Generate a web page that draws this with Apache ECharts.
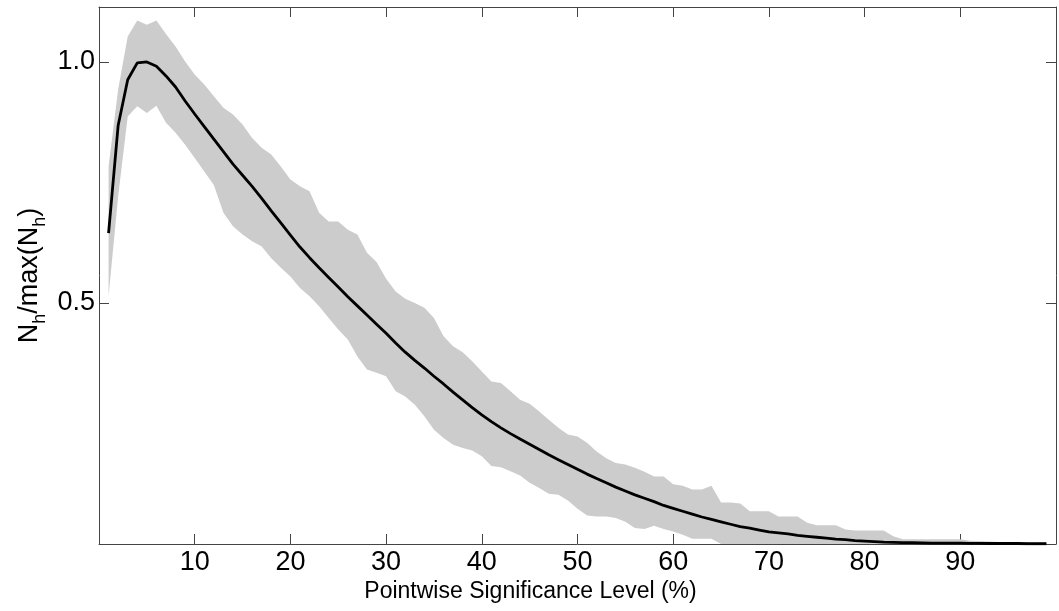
<!DOCTYPE html>
<html>
<head>
<meta charset="utf-8">
<script src="https://cdn.jsdelivr.net/npm/echarts@6/dist/echarts.min.js"></script>
<style>
  html, body { margin: 0; padding: 0; background: #fff; }
  #chart { width: 1059px; height: 611px; }
</style>
</head>
<body>
<div id="chart"></div>
<script>
// significance level (%)
const levels = [1,2,3,4,5,6,7,8,9,10,11,12,13,14,15,16,17,18,19,20,
  21,22,23,24,25,26,27,28,29,30,31,32,33,34,35,36,37,38,39,40,
  41,42,43,44,45,46,47,48,49,50,51,52,53,54,55,56,57,58,59,60,
  61,62,63,64,65,66,67,68,69,70,71,72,73,74,75,76,77,78,79,80,
  81,82,83,84,85,86,87,88,89,90,91,92,93,94,95,96,97,98,99];

// mean Nh/max(Nh)
const meanNh = [0.645,0.868,0.963,0.998,1.0,0.991,0.971,0.948,0.919,0.892,
  0.866,0.840,0.814,0.788,0.765,0.742,0.717,0.691,0.666,0.641,
  0.616,0.594,0.573,0.553,0.533,0.513,0.494,0.475,0.456,0.437,
  0.417,0.398,0.381,0.365,0.348,0.332,0.315,0.299,0.283,0.268,
  0.254,0.241,0.229,0.218,0.207,0.196,0.185,0.175,0.165,0.155,
  0.145,0.136,0.127,0.118,0.110,0.102,0.095,0.088,0.080,0.074,
  0.068,0.062,0.056,0.051,0.046,0.041,0.036,0.033,0.029,0.025,
  0.023,0.021,0.018,0.016,0.014,0.012,0.010,0.009,0.007,0.006,
  0.005,0.004,0.0035,0.003,0.003,0.0025,0.002,0.002,0.002,0.002,
  0.0015,0.0015,0.001,0.001,0.001,0.001,0.0005,0.0005,0.0005];

// upper edge of the spread
const upperNh = [0.783,0.943,1.053,1.086,1.077,1.086,1.058,1.032,1.001,0.974,
  0.953,0.929,0.905,0.891,0.870,0.842,0.822,0.808,0.783,0.756,
  0.742,0.732,0.687,0.669,0.669,0.652,0.642,0.604,0.585,0.550,
  0.524,0.509,0.500,0.490,0.469,0.431,0.410,0.398,0.379,0.358,
  0.337,0.334,0.317,0.299,0.291,0.275,0.258,0.241,0.227,0.223,
  0.210,0.192,0.178,0.168,0.165,0.158,0.150,0.140,0.140,0.124,
  0.121,0.113,0.113,0.121,0.086,0.086,0.084,0.068,0.068,0.068,
  0.057,0.057,0.057,0.044,0.039,0.039,0.039,0.030,0.028,0.028,
  0.028,0.028,0.016,0.010,0.010,0.010,0.010,0.010,0.010,0.010,
  0.007,0.006,0.005,0.004,0.004,0.004,0.003,0.003,0.003];

// lower edge of the spread
const lowerNh = [0.514,0.721,0.887,0.908,0.894,0.909,0.874,0.853,0.828,0.801,
  0.773,0.745,0.687,0.659,0.642,0.628,0.617,0.593,0.573,0.555,
  0.531,0.514,0.493,0.469,0.445,0.424,0.389,0.362,0.355,0.348,
  0.317,0.306,0.289,0.265,0.237,0.220,0.206,0.199,0.194,0.182,
  0.162,0.159,0.151,0.142,0.127,0.116,0.104,0.102,0.090,0.073,
  0.059,0.057,0.057,0.054,0.046,0.033,0.031,0.038,0.031,0.026,
  0.019,0.011,0.011,0.011,0,0,0,0,0,0,
  0,0,0,0,0,0,0,0,0,0,
  0,0,0,0,0,0,0,0,0,0,
  0,0,0,0,0,0,0,0,0];

const xTicks = [10, 20, 30, 40, 50, 60, 70, 80, 90];
const yTicks = [0.5, 1.0];

const font = '"Liberation Sans", Arial, sans-serif';
const frameColor = '#444';

const chart = echarts.init(document.getElementById('chart'));

const bandData = levels.map((x, i) => [x, lowerNh[i], upperNh[i]]);
const meanData = levels.map((x, i) => [x, meanNh[i]]);

// whole spread is one polygon: upper edge forward, lower edge back
function renderBand(params, api) {
  if (params.dataIndex !== 0) return null;
  const pts = [];
  for (let i = 0; i < levels.length; i++) pts.push(api.coord([levels[i], upperNh[i]]));
  for (let i = levels.length - 1; i >= 0; i--) pts.push(api.coord([levels[i], lowerNh[i]]));
  return {
    type: 'polygon',
    shape: { points: pts },
    style: { fill: '#cccccc', stroke: null }
  };
}

const xBase = {
  type: 'value',
  min: 0,
  max: 100,
  interval: 10,
  splitLine: { show: false },
  axisLine: { show: true, onZero: false, lineStyle: { color: frameColor, width: 1 } },
  axisTick: { show: true, inside: true, length: 10, lineStyle: { color: frameColor } }
};
const yBase = {
  type: 'value',
  min: 0,
  max: 1.114,
  interval: 0.5,
  splitLine: { show: false },
  axisLine: { show: true, onZero: false, lineStyle: { color: frameColor, width: 1 } },
  axisTick: { show: true, inside: true, length: 10, lineStyle: { color: frameColor } }
};

const option = {
  animation: false,
  grid: { left: 99, right: -7, top: 7, bottom: 67, containLabel: false },
  xAxis: [
    Object.assign({}, xBase, {
      position: 'bottom',
      name: 'Pointwise Significance Level (%)',
      nameLocation: 'middle',
      nameGap: 36,
      nameMoveOverlap: false,
      nameTextStyle: { fontFamily: font, fontSize: 23, color: '#000', padding: [0, 94, 0, 0] },
      axisLabel: {
        margin: 5,
        fontFamily: font, fontSize: 27, color: '#000',
        formatter: v => xTicks.includes(v) ? String(v) : ''
      }
    }),
    Object.assign({}, xBase, { position: 'top', axisLabel: { show: false } })
  ],
  yAxis: [
    Object.assign({}, yBase, {
      position: 'left',
      name: '{n|N}{s|h}{n|/max(N}{s|h}{n|)}',
      nameLocation: 'middle',
      nameGap: 56,
      nameMoveOverlap: false,
      nameTextStyle: {
        rich: {
          n: { fontFamily: font, fontSize: 27, lineHeight: 27, color: '#000', verticalAlign: 'top' },
          s: { fontFamily: font, fontSize: 18, lineHeight: 18, color: '#000', verticalAlign: 'top', padding: [15, 0, 0, 0] }
        }
      },
      axisLabel: {
        margin: 4,
        fontFamily: font, fontSize: 27, color: '#000',
        formatter: v => yTicks.some(t => Math.abs(t - v) < 1e-9) ? v.toFixed(1) : ''
      }
    }),
    Object.assign({}, yBase, { position: 'right', axisLabel: { show: false } })
  ],
  series: [
    {
      name: 'spread',
      type: 'custom',
      renderItem: renderBand,
      data: bandData,
      encode: { x: 0, y: [1, 2] },
      silent: true,
      z: 1
    },
    {
      name: 'mean',
      type: 'line',
      data: meanData,
      symbol: 'none',
      lineStyle: { color: '#000', width: 2.8 },
      z: 5
    }
  ]
};

chart.setOption(option);
</script>
</body>
</html>
